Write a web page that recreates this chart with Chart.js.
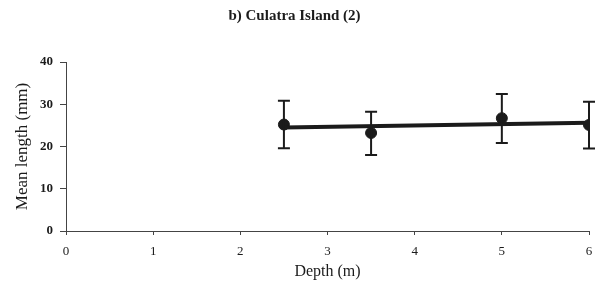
<!DOCTYPE html>
<html>
<head>
<meta charset="utf-8">
<script src="https://cdn.jsdelivr.net/npm/chart.js@4"></script>
<style>
  body { margin: 0; background: #fff; }
  #wrap { width: 603px; height: 293px; }
</style>
</head>
<body>
<div id="wrap"><canvas id="depth_chart"></canvas></div>
<script>
  // values
  const depths = [2.5, 3.5, 5, 6];
  const meanLength = [25.2, 23.2, 26.7, 25.1];
  const errUp = [5.6, 5.0, 5.7, 5.5];
  const errDown = [5.6, 5.2, 5.9, 5.6];
  const trendDepths = [2.5, 6];
  const trendLength = [24.5, 25.6];
  const xTicks = [0, 1, 2, 3, 4, 5, 6];
  const yTicks = [0, 10, 20, 30, 40];

  const ink = '#1b1b1b';

  // error bars, drawn through the chart's scales
  const errorBars = {
    id: 'errorBars',
    afterDatasetsDraw(chart) {
      const { ctx, scales: { x, y } } = chart;
      ctx.save();
      ctx.strokeStyle = ink;
      ctx.lineWidth = 2;
      depths.forEach((d, i) => {
        const px = x.getPixelForValue(d);
        const top = y.getPixelForValue(meanLength[i] + errUp[i]);
        const bot = y.getPixelForValue(meanLength[i] - errDown[i]);
        ctx.beginPath();
        ctx.moveTo(px, top); ctx.lineTo(px, bot);
        ctx.moveTo(px - 6, top); ctx.lineTo(px + 6, top);
        ctx.moveTo(px - 6, bot); ctx.lineTo(px + 6, bot);
        ctx.stroke();
      });
      ctx.restore();
    }
  };

  const ctx = document.getElementById('depth_chart');

  new Chart(ctx, {
    type: 'scatter',
    data: {
      datasets: [{
        label: 'Trend',
        data: trendDepths.map((d, i) => ({ x: d, y: trendLength[i] })),
        showLine: true,
        borderColor: ink,
        borderWidth: 4,
        pointRadius: 0
      }, {
        label: 'Mean length',
        data: depths.map((d, i) => ({ x: d, y: meanLength[i] })),
        showLine: false,
        backgroundColor: ink,
        borderColor: ink,
        pointRadius: 5.5,
        pointStyle: 'circle'
      }]
    },
    options: {
      responsive: true,
      maintainAspectRatio: false,
      animation: false,
      layout: { padding: { left: 0, right: 14, top: 0, bottom: 8 } },
      plugins: {
        legend: { display: false },
        tooltip: { enabled: false },
        title: {
          display: true,
          text: 'b) Culatra Island (2)',
          color: ink,
          font: { family: 'Liberation Serif', size: 15, weight: 'bold' },
          padding: { top: 7, bottom: 37 }
        }
      },
      scales: {
        x: {
          type: 'linear',
          min: 0, max: 6,
          afterBuildTicks: s => { s.ticks = xTicks.map(v => ({ value: v })); },
          afterFit: s => { s.height = 54; },
          grid: { drawOnChartArea: false, tickLength: 4, color: '#444' },
          border: { color: '#444', width: 1 },
          ticks: { color: ink, padding: 9, font: { family: 'Liberation Serif', size: 13 } },
          title: {
            display: true, text: 'Depth (m)', color: ink,
            font: { family: 'Liberation Serif', size: 16 }
          }
        },
        y: {
          min: 0, max: 40,
          afterBuildTicks: s => { s.ticks = yTicks.map(v => ({ value: v })); },
          afterFit: s => { s.width = 66; },
          grid: { drawOnChartArea: false, tickLength: 6, color: '#444' },
          border: { color: '#444', width: 1 },
          ticks: { color: ink, padding: 7, font: { family: 'Liberation Serif', size: 13, weight: 'bold' } },
          title: {
            display: true, text: 'Mean length (mm)', color: ink,
            font: { family: 'Liberation Serif', size: 17 },
            padding: { top: 12, bottom: 0 }
          }
        }
      }
    },
    plugins: [errorBars]
  });
</script>
</body>
</html>
